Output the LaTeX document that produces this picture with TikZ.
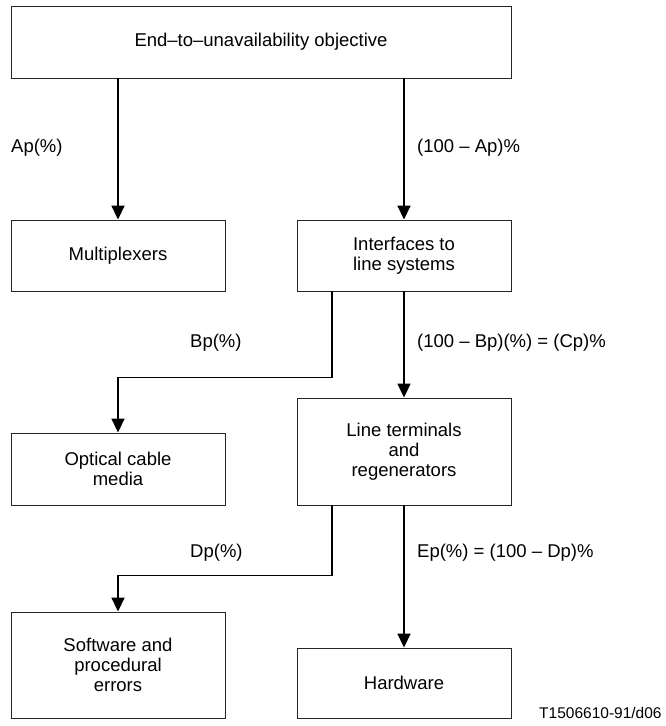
\documentclass[tikz,border=0pt]{standalone}
\usepackage{fontspec}
\setmainfont{Liberation Sans}
\usetikzlibrary{arrows.meta}
\begin{document}
\begin{tikzpicture}[x=1pt,y=-1pt,
  box/.style={draw=black!85,line width=0.9pt,minimum width=214pt,inner sep=0pt,align=center,
    font=\fontsize{18.5}{20}\selectfont},
  lbl/.style={anchor=west,inner sep=0pt,font=\fontsize{18.5}{20}\selectfont},
  arr/.style={line width=1.8pt,-{Triangle[length=14pt,width=13pt]}},
  ln/.style={line width=1.8pt}]
\useasboundingbox (0,0) rectangle (666,726);
\node[box,minimum width=500pt,minimum height=72pt] (top) at (261,42) {End--to--unavailability objective};
\node[box,minimum height=71pt] (mux) at (118,255.5) {Multiplexers};
\node[box,minimum height=71pt] (intf) at (404,255.5) {Interfaces to\\line systems};
\node[box,minimum height=72pt] (opt) at (118,469) {Optical cable\\media};
\node[box,minimum height=107pt] (lt) at (404,451.5) {Line terminals\\and\\regenerators};
\node[box,minimum height=106pt] (sw) at (118,665) {Software and\\procedural\\errors};
\node[box,minimum height=70pt] (hw) at (404,683) {Hardware};

\draw[arr] (top.south -| mux.north) -- (mux.north);
\draw[arr] (top.south -| intf.north) -- (intf.north);
\draw[arr] ([xshift=-72pt]intf.south) -- ++(0,86) -| (opt.north);
\draw[arr] (intf.south) -- (lt.north);
\draw[arr] ([xshift=-72pt]lt.south) -- ++(0,70) -| (sw.north);
\draw[arr] (lt.south) -- (hw.north);

\node[lbl] (la) at (11,148) {Ap(\%)};
\node[lbl] (lna) at (417,148) {(100 -- Ap)\%};
\node[lbl] (lb) at (190,343) {Bp(\%)};
\node[lbl] (lc) at (417,343) {(100 -- Bp)(\%) = (Cp)\%};
\node[lbl] (ld) at (190,553) {Dp(\%)};
\node[lbl] (le) at (417,553) {Ep(\%) = (100 -- Dp)\%};
\node[lbl,font=\fontsize{15.5}{17}\selectfont] (ref) at (539,713) {T1506610-91/d06};
\end{tikzpicture}
\end{document}
